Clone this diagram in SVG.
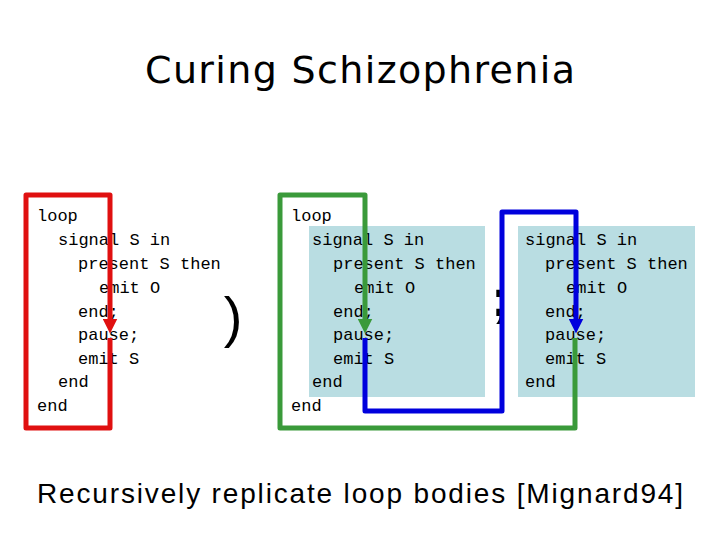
<svg xmlns="http://www.w3.org/2000/svg" width="720" height="540" viewBox="0 0 720 540">
<style>
.c{font-family:"Liberation Mono",monospace;font-size:17px;fill:#000}
.bx{fill:#b9dde2}
.w{fill:none;stroke-width:5;stroke-linejoin:round}
</style>
<defs>
<marker id="ag" markerWidth="3" markerHeight="3" refX="1.5" refY="1.5" orient="auto" markerUnits="strokeWidth"><path d="M0,0L3,1.5L0,3z" fill="#3a9a3a"/></marker>
<marker id="ab" markerWidth="3" markerHeight="3" refX="1.5" refY="1.5" orient="auto" markerUnits="strokeWidth"><path d="M0,0L3,1.5L0,3z" fill="#0000dd"/></marker>
<marker id="aR" markerWidth="3" markerHeight="3" refX="1.5" refY="1.5" orient="auto" markerUnits="strokeWidth"><path d="M0,0L3,1.5L0,3z" fill="#e01010"/></marker>
</defs>
<rect width="720" height="540" fill="#fff"/>
<text x="360" y="83" text-anchor="middle" font-family="'DejaVu Sans',sans-serif" font-size="38" textLength="430">Curing Schizophrenia</text>
<g id="box1" class="bx"><rect x="309" y="226" width="176" height="171"/></g>
<g id="box2" class="bx"><rect x="518" y="226" width="177" height="171"/></g>
<g id="code1" class="c">
<text x="37" y="221">loop</text>
<text x="58" y="245">signal S in</text>
<text x="78" y="269">present S then</text>
<text x="99" y="293">emit O</text>
<text x="78" y="317">end;</text>
<text x="78" y="340">pause;</text>
<text x="78" y="364">emit S</text>
<text x="58" y="387">end</text>
<text x="37" y="411">end</text>
</g>
<g id="code2" class="c">
<text x="291" y="221">loop</text>
<text x="312" y="245">signal S in</text>
<text x="333" y="269">present S then</text>
<text x="354" y="293">emit O</text>
<text x="333" y="317">end;</text>
<text x="333" y="340">pause;</text>
<text x="333" y="364">emit S</text>
<text x="312" y="387">end</text>
<text x="291" y="411">end</text>
</g>
<g id="code3" class="c">
<text x="525" y="245">signal S in</text>
<text x="545" y="269">present S then</text>
<text x="566" y="293">emit O</text>
<text x="545" y="317">end;</text>
<text x="545" y="340">pause;</text>
<text x="545" y="364">emit S</text>
<text x="525" y="387">end</text>
</g>
<text x="233" y="336" text-anchor="middle" font-family="'Liberation Sans',sans-serif" font-size="56">)</text>
<text x="500" y="316" text-anchor="middle" font-family="'Liberation Sans',sans-serif" font-size="52" font-weight="bold">;</text>
<g id="connectors">
<path class="w" stroke="#e01010" d="M110,338V428H26V195H110V326" marker-end="url(#aR)"/>
<path class="w" stroke="#3a9a3a" d="M575,338V428H280V195H365V326" marker-end="url(#ag)"/>
<path class="w" stroke="#0000dd" d="M365,338V411H502V212H576V326" marker-end="url(#ab)"/>
</g>
<text x="360" y="503" text-anchor="middle" font-family="'Liberation Sans',sans-serif" font-size="28" textLength="646">Recursively replicate loop bodies [Mignard94]</text>
</svg>
